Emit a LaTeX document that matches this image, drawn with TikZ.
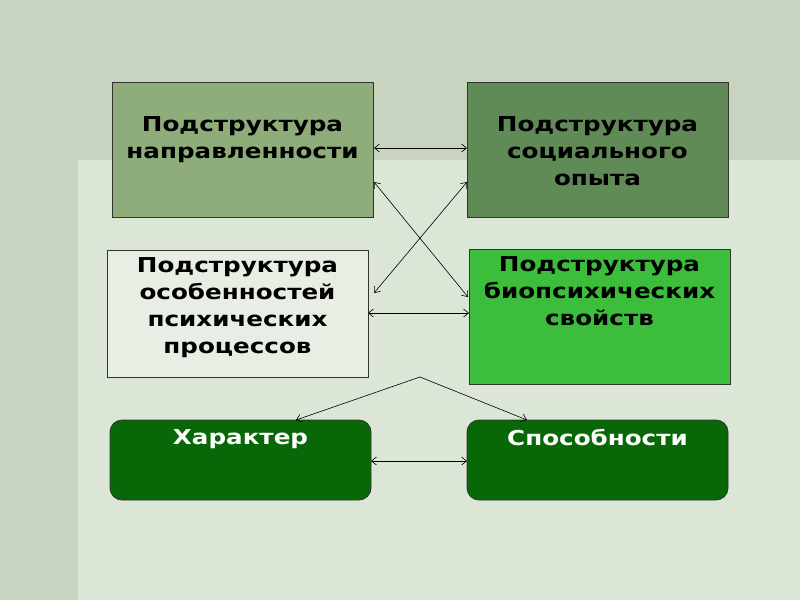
\documentclass[tikz,border=0pt]{standalone}
\usepackage{fontspec}
\setmainfont{DejaVu Sans}[FakeStretch=1.2]
\usetikzlibrary{arrows.meta}
\begin{document}
\begin{tikzpicture}[x=1pt,y=-1pt,
  box/.style={draw=black!80,line width=0.8pt},
  lbl/.style={font=\bfseries\fontsize{20.5}{27}\selectfont,align=center,anchor=north},
  con/.style={line width=0.6pt,{Straight Barb[length=5pt,width=8pt]}-{Straight Barb[length=5pt,width=8pt]}},
  one/.style={line width=0.6pt,-{Straight Barb[length=5pt,width=8pt]}}]
\fill[fill={rgb,255:red,200;green,212;blue,192}] (0,0) rectangle (800,600);
\fill[fill={rgb,255:red,220;green,230;blue,214}] (78,160) rectangle (800,600);
\useasboundingbox (0,0) rectangle (800,600);
\draw[box,fill={rgb,255:red,143;green,173;blue,122}] (112,82) rectangle (373,217);
\node[lbl] (A) at (242.5,113) {Подструктура\\направленности};
\draw[box,fill={rgb,255:red,96;green,138;blue,86}] (467,82) rectangle (728,217);
\node[lbl] (B) at (597.5,113) {Подструктура\\социального\\опыта};
\draw[box,fill={rgb,255:red,232;green,238;blue,228}] (107,250) rectangle (368,377);
\node[lbl] (C) at (237.5,254) {Подструктура\\особенностей\\психических\\процессов};
\draw[box,fill={rgb,255:red,60;green,190;blue,60}] (469,249) rectangle (730,384);
\node[lbl] (D) at (599.5,253) {Подструктура\\биопсихических\\свойств};
\draw[box,fill={rgb,255:red,8;green,104;blue,8},rounded corners=12pt] (110,420) rectangle (371,500);
\node[lbl,text=white] (E) at (240.5,426) {Характер};
\draw[box,fill={rgb,255:red,8;green,104;blue,8},rounded corners=12pt] (467,420) rectangle (728,500);
\node[lbl,text=white] (F) at (597.5,426) {Способности};
\coordinate (a1) at (374,148); \coordinate (b1) at (467,148);
\coordinate (a2) at (374,182); \coordinate (d2) at (468,297);
\coordinate (b2) at (467,182); \coordinate (c2) at (374,293);
\coordinate (c1) at (368,313); \coordinate (d1) at (469,313);
\coordinate (t) at (420,377); \coordinate (e1) at (296,420); \coordinate (f1) at (527,420);
\coordinate (e2) at (371,461); \coordinate (f2) at (467,461);
\draw[con] (a1) -- (b1);
\draw[con] (a2) -- (d2);
\draw[con] (b2) -- (c2);
\draw[con] (c1) -- (d1);
\draw[one] (t) -- (e1);
\draw[one] (t) -- (f1);
\draw[con] (e2) -- (f2);
\end{tikzpicture}
\end{document}
